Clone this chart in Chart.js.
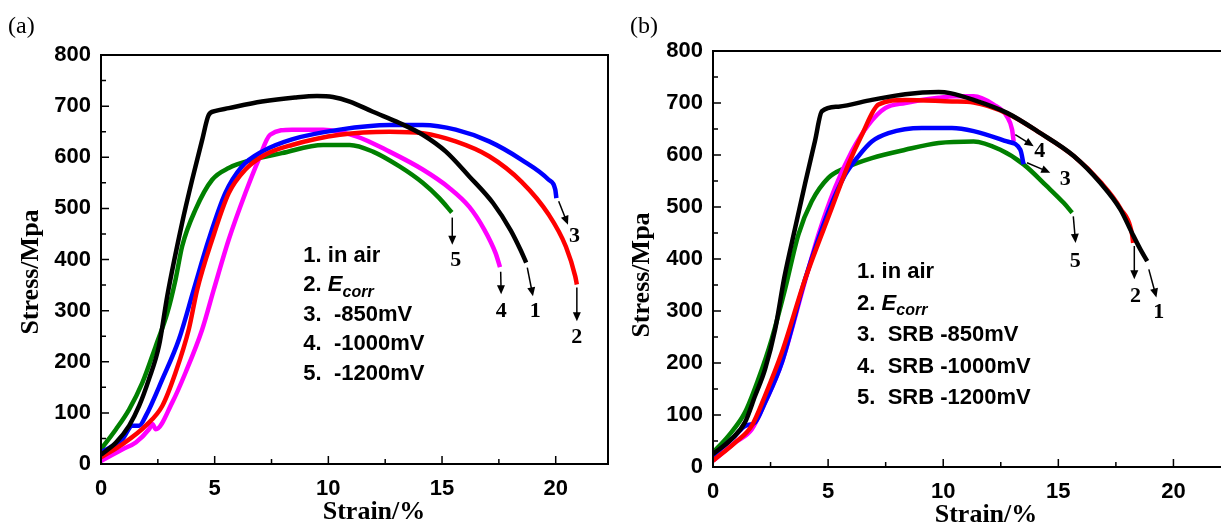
<!DOCTYPE html>
<html>
<head>
<meta charset="utf-8">
<title>Stress-strain curves</title>
<script src="https://cdn.jsdelivr.net/npm/chart.js@4.4.0/dist/chart.umd.min.js"></script>
<style>
    html, body { margin: 0; padding: 0; background: #fff; overflow: hidden; }
    #wrap { position: relative; width: 1221px; height: 528px; overflow: hidden; }
    .panel { position: absolute; top: 0; }
    #panelA { left: 0; }
    #panelB { left: 610px; }
</style>
</head>
<body>
<div id="wrap">
    <div class="panel" id="panelA"><canvas id="chartA" width="610" height="528"></canvas></div>
    <div class="panel" id="panelB"><canvas id="chartB" width="621" height="528"></canvas></div>
</div>
<script>
// ---- panel (a) ----
const airStrainA = [0, 0.66, 1.24, 1.68, 2.11, 2.55, 2.92, 3.57, 4.01, 4.45, 4.74, 5.0, 5.62, 7.08, 8.53, 9.5, 10.2, 10.94, 11.96, 13.13, 14.15, 15.17, 16.19, 17.25, 18.02, 18.46, 18.7];
const airStressA = [18, 42, 75, 114, 166, 231, 330, 472, 556, 634, 683, 690, 696, 709, 717, 720, 718, 709, 689, 667, 644, 611, 563, 510, 457, 418, 394];
const ecorrStrainA = [0, 0.95, 1.97, 2.7, 3.28, 3.86, 4.23, 4.89, 5.62, 6.35, 7.22, 8.4, 10.5, 12.69, 14.15, 15.6, 17.07, 18.5, 19.69, 20.45, 20.86, 20.93];
const ecorrStressA = [13, 39, 75, 114, 179, 263, 341, 439, 530, 576, 605, 624, 644, 650, 647, 631, 602, 552, 488, 425, 367, 351];
const mv850StrainA = [0, 0.95, 1.38, 1.68, 1.97, 2.7, 3.43, 4.08, 4.74, 5.47, 6.2, 7.08, 8.4, 10.5, 12.69, 14.15, 15.6, 17.07, 18.5, 19.69, 19.98, 20.03];
const mv850StressA = [23, 49, 75, 75, 94, 166, 244, 341, 439, 530, 582, 611, 635, 654, 663, 663, 654, 631, 595, 556, 537, 520];
const mv1000StrainA = [0, 0.95, 1.53, 2.11, 2.26, 2.41, 3.13, 3.72, 4.45, 4.96, 5.62, 6.35, 6.93, 7.44, 8.4, 9.77, 11.23, 12.69, 14.15, 15.32, 16.2, 16.84, 17.36, 17.55];
const mv1000StressA = [6, 29, 42, 68, 78, 68, 120, 179, 263, 341, 439, 530, 595, 644, 654, 654, 641, 611, 576, 540, 503, 460, 412, 385];
const mv1200StrainA = [0, 0.66, 1.24, 1.82, 2.41, 2.92, 3.28, 3.57, 4.16, 4.89, 5.62, 6.64, 7.95, 9.77, 10.94, 11.96, 13.13, 14.15, 14.88, 15.43];
const mv1200StressA = [29, 68, 107, 159, 231, 296, 361, 426, 498, 556, 579, 595, 608, 624, 624, 611, 582, 550, 520, 492];

const legendA = ["1. in air", "2. ", "3.  -850mV", "4.  -1000mV", "5.  -1200mV"];
// arrows: [fromStrain, fromStress, toStrain, toStress], labels at [strain, stress]
const arrowsA = [[18.75, 384, 19.0, 328], [20.93, 345, 20.93, 279], [20.13, 514, 20.54, 468], [17.58, 376, 17.6, 332], [15.45, 482, 15.45, 429]];
const arrowLabelsA = [[19.1, 299], [20.93, 248], [20.83, 445], [17.6, 299], [15.6, 398]];

// ---- panel (b) ----
const airStrainB = [0, 0.81, 1.39, 1.83, 2.26, 2.7, 3.1, 3.57, 4.0, 4.43, 4.73, 5.45, 6.9, 8.35, 9.8, 10.3, 11.32, 12.77, 14.22, 15.67, 16.83, 17.7, 18.2, 18.57, 18.86];
const airStressB = [25, 54, 86, 137, 188, 265, 365, 460, 545, 627, 684, 693, 706, 717, 721, 719, 706, 681, 642, 598, 546, 495, 450, 418, 396];
const ecorrStrainB = [0, 0.96, 1.68, 2.26, 2.99, 4.0, 5.16, 5.88, 6.47, 7.19, 8.35, 10.38, 11.32, 12.77, 14.22, 15.67, 16.83, 17.7, 18.2, 18.25];
const ecorrStressB = [12, 47, 79, 137, 220, 361, 498, 582, 639, 697, 706, 703, 701, 680, 642, 598, 548, 497, 448, 431];
const mv850StrainB = [0, 0.96, 1.39, 1.83, 2.26, 2.99, 4.0, 5.0, 5.74, 6.32, 6.9, 7.62, 9.07, 10.38, 11.32, 12.77, 13.35, 13.49];
const mv850StressB = [22, 60, 79, 86, 124, 201, 361, 490, 562, 598, 626, 642, 652, 652, 646, 626, 610, 582];
const mv1000StrainB = [0, 0.96, 1.68, 2.26, 2.99, 4.0, 4.58, 5.3, 6.03, 6.75, 7.48, 8.35, 9.8, 10.52, 11.32, 12.19, 12.77, 12.99, 13.06];
const mv1000StressB = [12, 47, 72, 124, 201, 358, 447, 537, 607, 658, 690, 700, 710, 713, 713, 697, 674, 649, 626];
const mv1200StrainB = [0, 0.67, 1.39, 1.97, 2.55, 3.13, 3.71, 4.29, 5.01, 5.74, 6.9, 8.35, 9.8, 11.32, 12.48, 13.49, 14.5, 15.23, 15.6];
const mv1200StressB = [28, 60, 105, 169, 246, 342, 447, 511, 556, 575, 594, 610, 623, 626, 610, 582, 540, 508, 489];

const legendB = ["1. in air", "2. ", "3.  SRB -850mV", "4.  SRB -1000mV", "5.  SRB -1200mV"];
const arrowsB = [[18.93, 380, 19.26, 326], [18.3, 425, 18.3, 361], [13.64, 585, 14.65, 566], [13.13, 639, 13.93, 617], [15.65, 482, 15.75, 431]];
const arrowLabelsB = [[19.36, 297], [18.35, 329], [15.3, 553], [14.19, 608], [15.74, 396]];

const arrowNames = ["1", "2", "3", "4", "5"];
const yTicks = [0, 800, 100];
const xStep = 5;

const colors = ["#000000", "#ff0000", "#0000ff", "#ff00ff", "#008000"];
const SANS = "'Liberation Sans', Arial, sans-serif";
const SERIF = "'Liberation Serif', 'Times New Roman', serif";

function toPoints(xs, ys) {
    return xs.map((v, i) => ({ x: v, y: ys[i] }));
}

function makeDatasets(series) {
    return series.map((s, i) => ({
        data: toPoints(s[0], s[1]),
        borderColor: colors[i],
        backgroundColor: colors[i],
        borderWidth: 4.5,
        pointRadius: 0,
        cubicInterpolationMode: "monotone",
        fill: false
    }));
}

function drawArrow(ctx, x1, y1, x2, y2) {
    const ang = Math.atan2(y2 - y1, x2 - x1);
    const head = 9;
    ctx.beginPath();
    ctx.moveTo(x1, y1);
    ctx.lineTo(x2 - Math.cos(ang) * head * 0.8, y2 - Math.sin(ang) * head * 0.8);
    ctx.stroke();
    ctx.beginPath();
    ctx.moveTo(x2, y2);
    ctx.lineTo(x2 - head * Math.cos(ang) + 4 * Math.sin(ang), y2 - head * Math.sin(ang) - 4 * Math.cos(ang));
    ctx.lineTo(x2 - head * Math.cos(ang) - 4 * Math.sin(ang), y2 - head * Math.sin(ang) + 4 * Math.cos(ang));
    ctx.closePath();
    ctx.fill();
}

// frame, inward ticks, titles, arrows and text
const extras = {
    id: "extras",
    afterDraw(chart, args, opts) {
        const { ctx, chartArea: a, scales: { x, y } } = chart;
        ctx.save();
        ctx.strokeStyle = "#000";
        ctx.fillStyle = "#000";

        ctx.lineWidth = 2;
        ctx.strokeRect(a.left, a.top, a.right - a.left, a.bottom - a.top);

        ctx.lineWidth = 1.5;
        ctx.beginPath();
        for (let v = yTicks[0]; v <= yTicks[1]; v += yTicks[2] / 2) {
            const py = y.getPixelForValue(v);
            const len = v % yTicks[2] === 0 ? 8 : 5;
            ctx.moveTo(a.left, py);
            ctx.lineTo(a.left + len, py);
        }
        for (let v = 0; v <= x.max; v += xStep / 2) {
            const px = x.getPixelForValue(v);
            const len = v % xStep === 0 ? 8 : 5;
            ctx.moveTo(px, a.bottom);
            ctx.lineTo(px, a.bottom - len);
        }
        ctx.stroke();

        // axis titles
        ctx.font = "bold 26px " + SERIF;
        ctx.textAlign = "center";
        ctx.textBaseline = "middle";
        ctx.fillText("Strain/%", a.left + 273, opts.xTitleY);
        ctx.save();
        ctx.translate(opts.yTitleX, opts.yTitleY);
        ctx.rotate(-Math.PI / 2);
        ctx.fillText("Stress/Mpa", 0, 0);
        ctx.restore();

        // panel tag
        ctx.font = "24px " + SERIF;
        ctx.textAlign = "left";
        ctx.fillText(opts.tag, opts.tagX, 27);

        // arrows and their numbers
        ctx.lineWidth = 1.5;
        opts.arrows.forEach(r => {
            drawArrow(ctx, x.getPixelForValue(r[0]), y.getPixelForValue(r[1]),
                x.getPixelForValue(r[2]), y.getPixelForValue(r[3]));
        });
        ctx.font = "bold 22px " + SERIF;
        ctx.textAlign = "center";
        opts.arrowLabels.forEach((p, i) => {
            ctx.fillText(arrowNames[i], x.getPixelForValue(p[0]), y.getPixelForValue(p[1]));
        });

        // legend text
        const lx = x.getPixelForValue(opts.legendAt[0]);
        const ly = y.getPixelForValue(opts.legendAt[1]);
        ctx.textAlign = "left";
        opts.legend.forEach((t, i) => {
            const yy = ly + i * opts.legendGap;
            ctx.font = "bold 22px " + SANS;
            ctx.fillText(t, lx, yy);
            if (i === 1) {
                const w = ctx.measureText(t).width;
                ctx.font = "italic bold 22px " + SANS;
                ctx.fillText("E", lx + w, yy);
                const we = ctx.measureText("E").width;
                ctx.font = "italic bold 16px " + SANS;
                ctx.fillText("corr", lx + w + we, yy + 7);
            }
        });
        ctx.restore();
    }
};

function makeChart(id, series, xMax, pad, yWidth, xHeight, extraOpts) {
    return new Chart(document.getElementById(id), {
        type: "line",
        data: { datasets: makeDatasets(series) },
        options: {
            responsive: false,
            animation: false,
            layout: { padding: pad },
            plugins: {
                legend: { display: false },
                tooltip: { enabled: false },
                extras: extraOpts
            },
            scales: {
                x: {
                    type: "linear",
                    min: 0,
                    max: xMax,
                    grid: { display: false, drawTicks: false },
                    border: { display: false },
                    ticks: {
                        stepSize: xStep,
                        includeBounds: false,
                        padding: 12,
                        color: "#000",
                        maxRotation: 0,
                        font: { family: SANS, size: 22, weight: "bold" }
                    },
                    afterFit: s => { s.height = xHeight; }
                },
                y: {
                    min: yTicks[0],
                    max: yTicks[1],
                    grid: { display: false, drawTicks: false },
                    border: { display: false },
                    ticks: {
                        stepSize: yTicks[2],
                        padding: 10,
                        color: "#000",
                        font: { family: SANS, size: 22, weight: "bold" }
                    },
                    afterFit: s => { s.width = yWidth; }
                }
            }
        },
        plugins: [extras]
    });
}

makeChart("chartA",
    [[airStrainA, airStressA], [ecorrStrainA, ecorrStressA], [mv850StrainA, mv850StressA],
     [mv1000StrainA, mv1000StressA], [mv1200StrainA, mv1200StressA]],
    22.3, { top: 55, right: 2, left: 0, bottom: 0 }, 101, 64,
    {
        tag: "(a)", tagX: 8, xTitleY: 512, yTitleX: 31, yTitleY: 272,
        arrows: arrowsA, arrowLabels: arrowLabelsA,
        legend: legendA, legendAt: [8.9, 407], legendGap: 29.5
    });

makeChart("chartB",
    [[airStrainB, airStressB], [ecorrStrainB, ecorrStressB], [mv850StrainB, mv850StressB],
     [mv1000StrainB, mv1000StressB], [mv1200StrainB, mv1200StressB]],
    22.5, { top: 51, right: 0, left: 0, bottom: 0 }, 103, 61,
    {
        tag: "(b)", tagX: 20, xTitleY: 515, yTitleX: 32, yTitleY: 275,
        arrows: arrowsB, arrowLabels: arrowLabelsB,
        legend: legendB, legendAt: [6.26, 375], legendGap: 31.5
    });
</script>
</body>
</html>
